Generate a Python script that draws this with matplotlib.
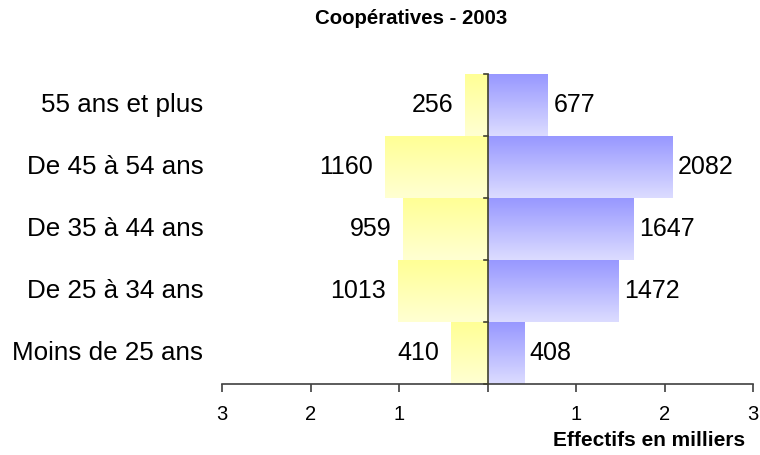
import numpy as np
import matplotlib.pyplot as plt
from matplotlib.colors import LinearSegmentedColormap

plt.rcParams['font.family'] = ['Liberation Sans', 'DejaVu Sans']

# data (effectifs, en unites -> milliers sur l'axe)
categories = ['Moins de 25 ans', 'De 25 à 34 ans', 'De 35 à 44 ans',
              'De 45 à 54 ans', '55 ans et plus']
left_vals = [410, 1013, 959, 1160, 256]
right_vals = [408, 1472, 1647, 2082, 677]
tick_vals = [-3, -2, -1, 0, 1, 2, 3]
tick_labels = ['3', '2', '1', '', '1', '2', '3']

yellow = LinearSegmentedColormap.from_list('y', ['#FFFFD2', '#FFFF96'])
blue = LinearSegmentedColormap.from_list('b', ['#DCDCFF', '#9898FF'])
grad = np.linspace(0, 1, 64).reshape(-1, 1)


def gradient_bar(ax, x0, x1, yc, cmap):
    # vertical gradient, darker on top
    ax.imshow(grad, cmap=cmap, aspect='auto', origin='lower',
              extent=(x0, x1, yc - 0.5, yc + 0.5), zorder=1,
              interpolation='bilinear')


fig = plt.figure(figsize=(7.6, 4.55), dpi=100)
ax = fig.add_axes([222 / 760, 1 - 384 / 455, (753 - 222) / 760, (384 - 74) / 455])

for i, (lv, rv) in enumerate(zip(left_vals, right_vals)):
    gradient_bar(ax, -lv / 1000, 0, i, yellow)
    gradient_bar(ax, 0, rv / 1000, i, blue)
    ax.text(-lv / 1000 - 0.13, i, str(lv), ha='right', va='center', fontsize=18)
    ax.text(rv / 1000 + 0.07, i, str(rv), ha='left', va='center', fontsize=18)
    ax.text(-3.21, i, categories[i], ha='right', va='center', fontsize=18.7,
            clip_on=False)

ax.set_xlim(-3, 3)
ax.set_ylim(-0.5, len(categories) - 0.5)

# center axis with small ticks at category boundaries
ax.axvline(0, color='#404030', lw=1.2, zorder=3)
for b in np.arange(-0.5, len(categories), 1.0):
    ax.plot([-0.045, 0], [b, b], color='#404030', lw=1.2, zorder=3,
            clip_on=False)

for s in ['left', 'top', 'right']:
    ax.spines[s].set_visible(False)
ax.spines['bottom'].set_color('#404040')
ax.spines['bottom'].set_linewidth(1.2)
ax.set_yticks([])
ax.set_xticks(tick_vals)
ax.set_xticklabels(tick_labels, fontsize=14.5)
ax.tick_params(axis='x', direction='out', length=6, width=1.2,
               color='#404040', pad=9)

fig.text(411 / 760, 1 - 19 / 455, 'Coopératives - 2003', ha='center',
         va='center', fontsize=14.7, fontweight='bold')
fig.text(745 / 760, 1 - 440 / 455, 'Effectifs en milliers', ha='right',
         va='center', fontsize=15, fontweight='bold')

fig.savefig('out.png', dpi=100)
